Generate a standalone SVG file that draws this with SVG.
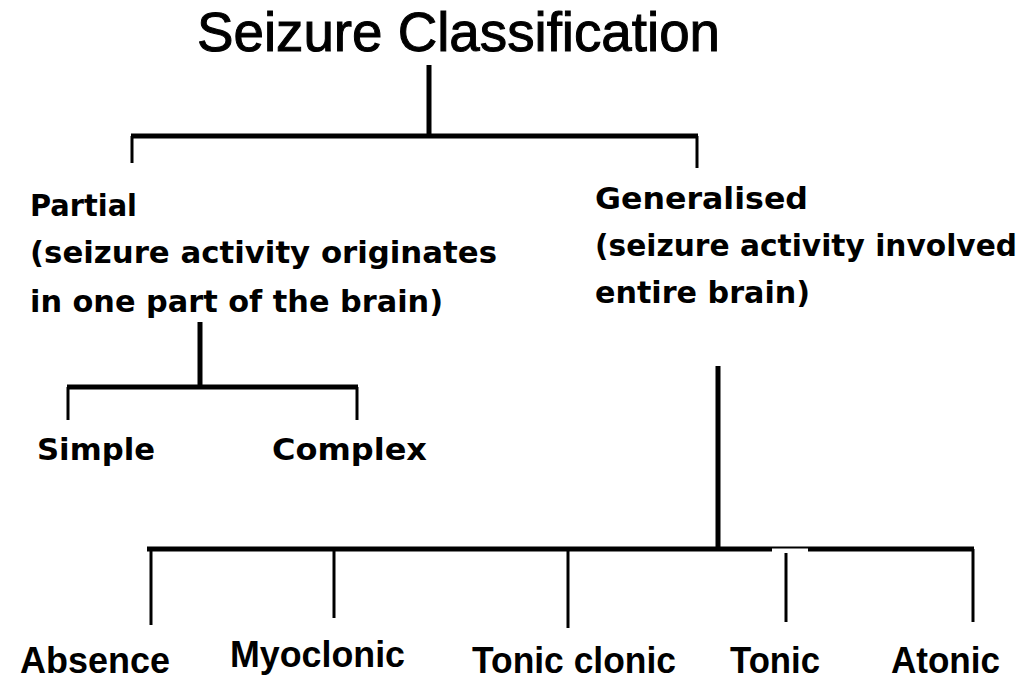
<svg xmlns="http://www.w3.org/2000/svg" width="1035" height="680" viewBox="0 0 1035 680">
<style>
.title{font-family:"Liberation Sans",Arial,sans-serif;font-size:55px;fill:#000;stroke:#000;stroke-width:1}
.mid{font-family:"DejaVu Sans",Verdana,sans-serif;font-weight:bold;font-size:30px;fill:#000}
.leaf{font-family:"Liberation Sans",Arial,sans-serif;font-weight:bold;font-size:36px;fill:#000}
.thick{stroke:#000;stroke-width:5;fill:none}
.thin{stroke:#000;stroke-width:3;fill:none}
.hair{stroke:#000;stroke-width:2;fill:none}
</style>
<rect width="1035" height="680" fill="#fff"/>
<g id="connectors">
<line class="thick" x1="429" y1="65" x2="429" y2="136"/>
<line class="thick" x1="131" y1="136" x2="698" y2="136"/>
<line class="thin" x1="132" y1="136" x2="132" y2="163"/>
<line class="thin" x1="697" y1="136" x2="697" y2="168"/>
<line class="thick" x1="200" y1="322" x2="200" y2="387"/>
<line class="thick" x1="67" y1="387" x2="358" y2="387"/>
<line class="thin" x1="68" y1="387" x2="68" y2="420"/>
<line class="thin" x1="357" y1="387" x2="357" y2="420"/>
<line class="thick" x1="718" y1="366" x2="718" y2="549"/>
<line class="thick" x1="147" y1="549" x2="772" y2="549"/>
<line class="hair" x1="772" y1="547.5" x2="808" y2="547.5"/>
<line class="thick" x1="808" y1="549" x2="974" y2="549"/>
<line class="thin" x1="151" y1="549" x2="151" y2="625"/>
<line class="thin" x1="334" y1="549" x2="334" y2="618"/>
<line class="thin" x1="568" y1="549" x2="568" y2="628"/>
<line class="thin" x1="786" y1="553" x2="786" y2="622"/>
<line class="thin" x1="973" y1="549" x2="973" y2="622"/>
</g>
<g id="root"><text class="title" x="197" y="51" textLength="523" lengthAdjust="spacingAndGlyphs">Seizure Classification</text></g>
<g id="partial">
<text class="mid" x="30" y="216" textLength="107" lengthAdjust="spacingAndGlyphs">Partial</text>
<text class="mid" x="30" y="263" textLength="467" lengthAdjust="spacingAndGlyphs">(seizure activity originates</text>
<text class="mid" x="30" y="312" textLength="413" lengthAdjust="spacingAndGlyphs">in one part of the brain)</text>
</g>
<g id="generalised">
<text class="mid" x="595" y="209" textLength="213" lengthAdjust="spacingAndGlyphs">Generalised</text>
<text class="mid" x="595" y="256" textLength="422" lengthAdjust="spacingAndGlyphs">(seizure activity involved</text>
<text class="mid" x="595" y="303" textLength="215" lengthAdjust="spacingAndGlyphs">entire brain)</text>
</g>
<g id="simple"><text class="mid" x="37" y="460" textLength="118" lengthAdjust="spacingAndGlyphs">Simple</text></g>
<g id="complex"><text class="mid" x="272" y="460" textLength="155" lengthAdjust="spacingAndGlyphs">Complex</text></g>
<g id="absence"><text class="leaf" x="20" y="673" textLength="150" lengthAdjust="spacingAndGlyphs">Absence</text></g>
<g id="myoclonic"><text class="leaf" x="230" y="667" textLength="175" lengthAdjust="spacingAndGlyphs">Myoclonic</text></g>
<g id="tonic-clonic"><text class="leaf" x="472" y="673" textLength="204" lengthAdjust="spacingAndGlyphs">Tonic clonic</text></g>
<g id="tonic"><text class="leaf" x="730" y="673" textLength="90" lengthAdjust="spacingAndGlyphs">Tonic</text></g>
<g id="atonic"><text class="leaf" x="891" y="673" textLength="109" lengthAdjust="spacingAndGlyphs">Atonic</text></g>
</svg>
